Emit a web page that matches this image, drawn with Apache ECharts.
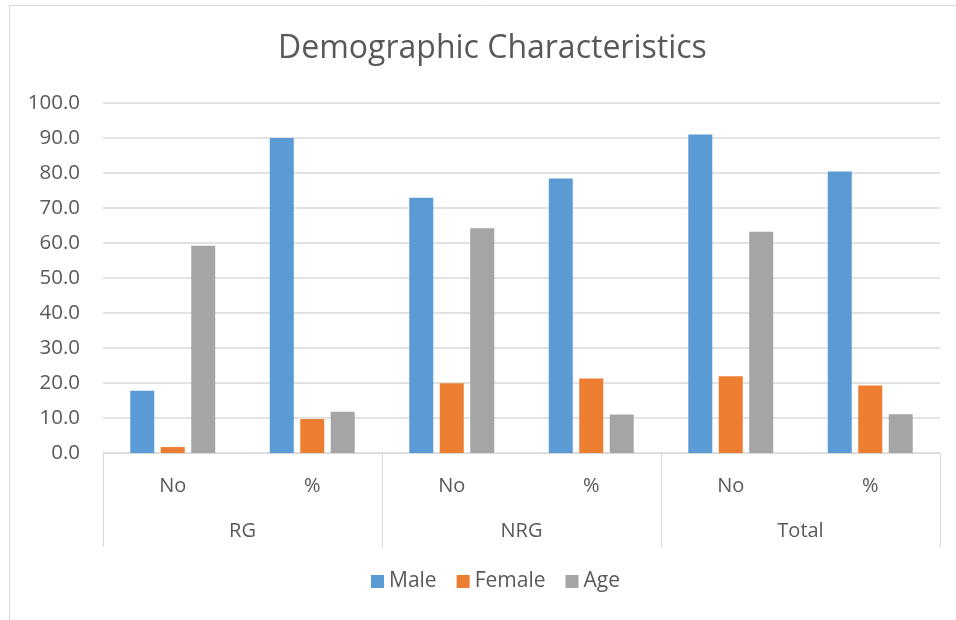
<!DOCTYPE html>
<html>
<head>
<meta charset="utf-8">
<script src="https://cdn.jsdelivr.net/npm/echarts@6/dist/echarts.min.js"></script>
<style>
  html, body { margin: 0; padding: 0; background: #fff; }
  #chart { width: 956px; height: 620px; }
</style>
</head>
<body>
<div id="chart"></div>
<script>
// chart values
var subCategories = ['No', '%', 'No', '%', 'No', '%'];
var groups = ['RG', 'NRG', 'Total'];
var seriesNames = ['Male', 'Female', 'Age'];
var maleValues = [17.8, 90.0, 72.9, 78.4, 91.0, 80.4];
var femaleValues = [1.7, 9.7, 19.9, 21.3, 21.9, 19.3];
var ageValues = [59.2, 11.8, 64.2, 11.0, 63.2, 11.1];
var colors = ['#5B9BD5', '#ED7D31', '#A5A5A5'];

var font = 'Open Sans';
var textColor = '#595959';

var chart = echarts.init(document.getElementById('chart'));

var option = {
    animation: false,
    color: colors,
    title: {
        text: 'Demographic Characteristics',
        left: 273,
        top: 28,
        textStyle: { fontFamily: font, fontSize: 32, fontWeight: 'normal', color: textColor }
    },
    legend: {
        data: seriesNames,
        bottom: 23,
        left: 366,
        icon: 'rect',
        itemWidth: 13,
        itemHeight: 13,
        itemGap: 20,
        textStyle: { fontFamily: font, fontSize: 21, color: textColor, padding: [0, 0, 0, 0] }
    },
    graphic: [{
        type: 'rect',
        shape: { x: 9.5, y: 5.5, width: 1000, height: 700 },
        style: { fill: null, stroke: '#d9d9d9', lineWidth: 1 },
        silent: true
    }],
    grid: { left: 103, right: 16, top: 103, bottom: 167, containLabel: false },
    xAxis: [{
        type: 'category',
        data: subCategories,
        position: 'bottom',
        axisLine: { lineStyle: { color: '#d9d9d9', width: 1 } },
        axisTick: { show: false },
        axisLabel: { fontFamily: font, fontSize: 20, color: textColor, margin: 23 }
    }, {
        type: 'category',
        data: groups,
        position: 'bottom',
        axisLine: { show: false },
        axisTick: { show: true, length: 94, lineStyle: { color: '#d9d9d9', width: 1 } },
        axisLabel: { fontFamily: font, fontSize: 20, color: textColor, margin: 68 }
    }],
    yAxis: {
        type: 'value',
        min: 0,
        max: 100,
        interval: 10,
        axisLine: { show: false },
        axisTick: { show: false },
        splitLine: { lineStyle: { color: '#d9d9d9', width: 1.5 } },
        axisLabel: {
            fontFamily: font, fontSize: 20.5, color: textColor, margin: 23,
            formatter: function (v) { return v.toFixed(1); }
        }
    },
    series: [
        { name: 'Male', type: 'bar', data: maleValues, barWidth: 24, barGap: '27%', xAxisIndex: 0 },
        { name: 'Female', type: 'bar', data: femaleValues, barWidth: 24, barGap: '27%', xAxisIndex: 0 },
        { name: 'Age', type: 'bar', data: ageValues, barWidth: 24, barGap: '27%', xAxisIndex: 0 }
    ]
};

chart.setOption(option);
</script>
</body>
</html>
